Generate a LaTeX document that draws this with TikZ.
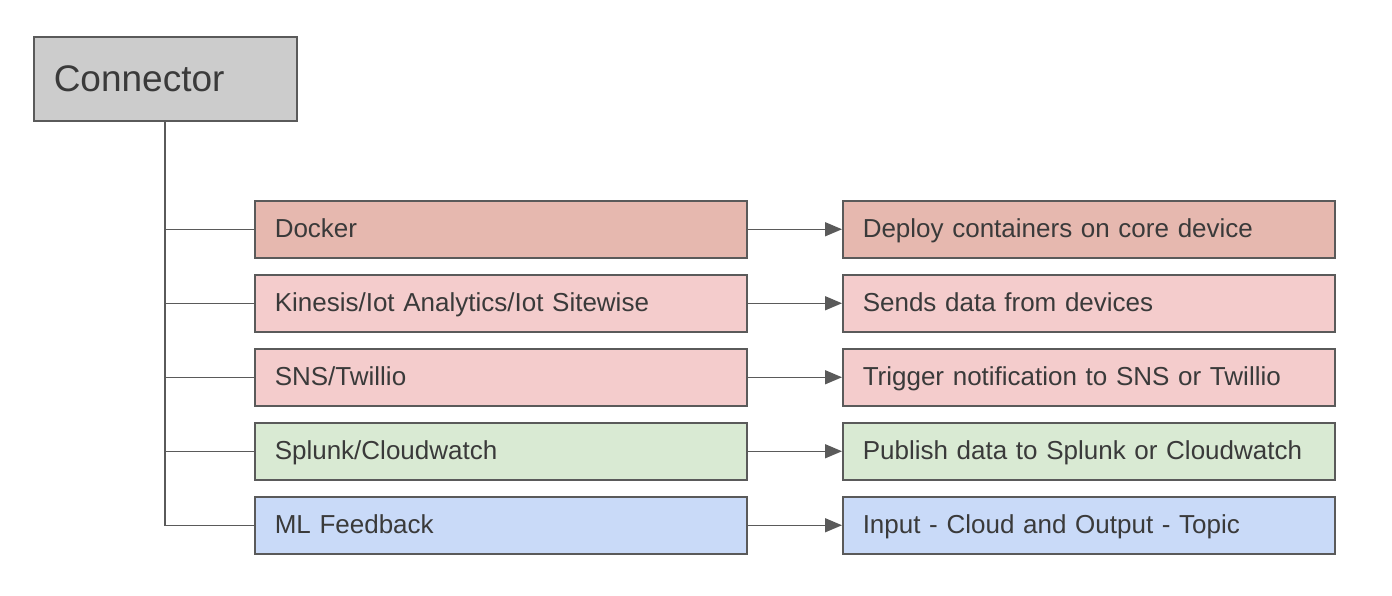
\documentclass[tikz,border=0pt]{standalone}
\usepackage{fontspec}
\setmainfont{Liberation Sans}
\usetikzlibrary{arrows.meta}
\definecolor{txt}{HTML}{3A3A3A}
\definecolor{edge}{HTML}{5A5A5A}
\definecolor{cgray}{HTML}{CCCCCC}
\definecolor{cberry}{HTML}{E6B8AF}
\definecolor{cred}{HTML}{F4CCCC}
\definecolor{cgreen}{HTML}{D9EAD3}
\definecolor{cblue}{HTML}{C9DAF8}
\begin{document}
\begin{tikzpicture}[x=1pt,y=-1pt,
  box/.style={draw=edge, line width=1.5pt, text=txt, anchor=north west, minimum height=57pt,
    minimum width=492pt, text width=452pt, inner xsep=20pt, align=left,
    text height=20pt, text depth=3pt,
    font=\fontsize{26}{30}\selectfont},
  link/.style={draw=edge, line width=1.5pt},
  arr/.style={link, -{Triangle[length=17pt,width=14pt]}}]
\useasboundingbox (0,0) rectangle (1392,595);
\node[draw=edge, line width=1.5pt, fill=cgray, text=txt, anchor=north west, minimum width=263pt,
  minimum height=84pt, text width=223pt, inner xsep=20pt, align=left,
  font=\fontsize{37}{40}\selectfont] (conn) at (33,36) {Connector};
\node[box, fill=cberry] (d) at (254,200) {Docker};
\node[box, fill=cred] (k) at (254,274) {Kinesis/Iot Analytics/Iot Sitewise};
\node[box, fill=cred] (s) at (254,348) {SNS/Twillio};
\node[box, fill=cgreen] (p) at (254,422) {Splunk/Cloudwatch};
\node[box, fill=cblue] (m) at (254,496) {ML Feedback};
\node[box, fill=cberry] (d2) at (842,200) {Deploy containers on core device};
\node[box, fill=cred] (k2) at (842,274) {Sends data from devices};
\node[box, fill=cred] (s2) at (842,348) {Trigger notification to SNS or Twillio};
\node[box, fill=cgreen] (p2) at (842,422) {Publish data to Splunk or Cloudwatch};
\node[box, fill=cblue] (m2) at (842,496) {Input - Cloud and Output - Topic};
\coordinate (top) at (165,120);
\draw[link] (top) |- (m.west);
\foreach \t in {d,k,s,p}{\draw[link] (top|-\t.west) -- (\t.west);}
\foreach \t in {d,k,s,p,m}{\draw[arr] (\t.east) -- (\t2.west);}
\end{tikzpicture}
\end{document}
